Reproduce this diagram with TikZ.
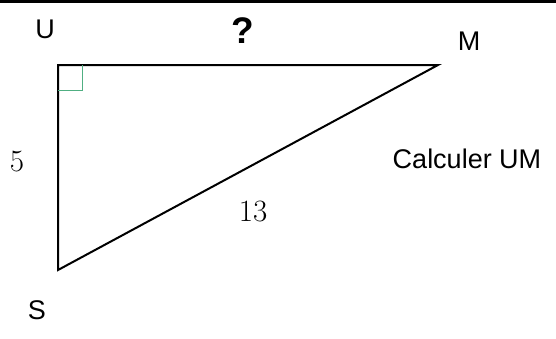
\documentclass[tikz,border=0pt]{standalone}
\usepackage{fontspec}
\newfontfamily\arialfont{Liberation Sans}
\usetikzlibrary{positioning}
\definecolor{anglegreen}{RGB}{80,175,130}

\begin{document}
\begin{tikzpicture}[
    x=1pt, y=-1pt,
    vertex/.style={font=\arialfont\fontsize{27}{29}\selectfont},
    measure/.style={font=\fontsize{31}{33}\selectfont},
    side/.style={line width=2pt, line join=miter},
    rightangle/.style={draw=anglegreen, line width=1pt}
]

\useasboundingbox (0,0) rectangle (556,338);
\fill[black] (0,0) rectangle (556,3);

\coordinate (U) at (58,65);
\coordinate (M) at (438,65);
\coordinate (S) at (58,270);

\draw[side] (U) -- (M) -- (S) -- cycle;
\draw[rightangle] ([yshift=-25pt]U) -- ++(24,0) -- ([xshift=24pt]U);

\node[vertex] (labU) at (45,29) {U};
\node[vertex] (labM) at (469,41) {M};
\node[vertex] (labS) at (37,310) {S};
\node[font=\arialfont\bfseries\fontsize{37}{39}\selectfont] (question) at (243,31) {?};
\node[font=\arialfont\fontsize{27}{29}\selectfont] (task) at (467,159) {Calculer UM};
\node[measure] (us) at (17,162) {5};
\node[measure] (sm) at (253,211) {13};

\end{tikzpicture}
\end{document}
